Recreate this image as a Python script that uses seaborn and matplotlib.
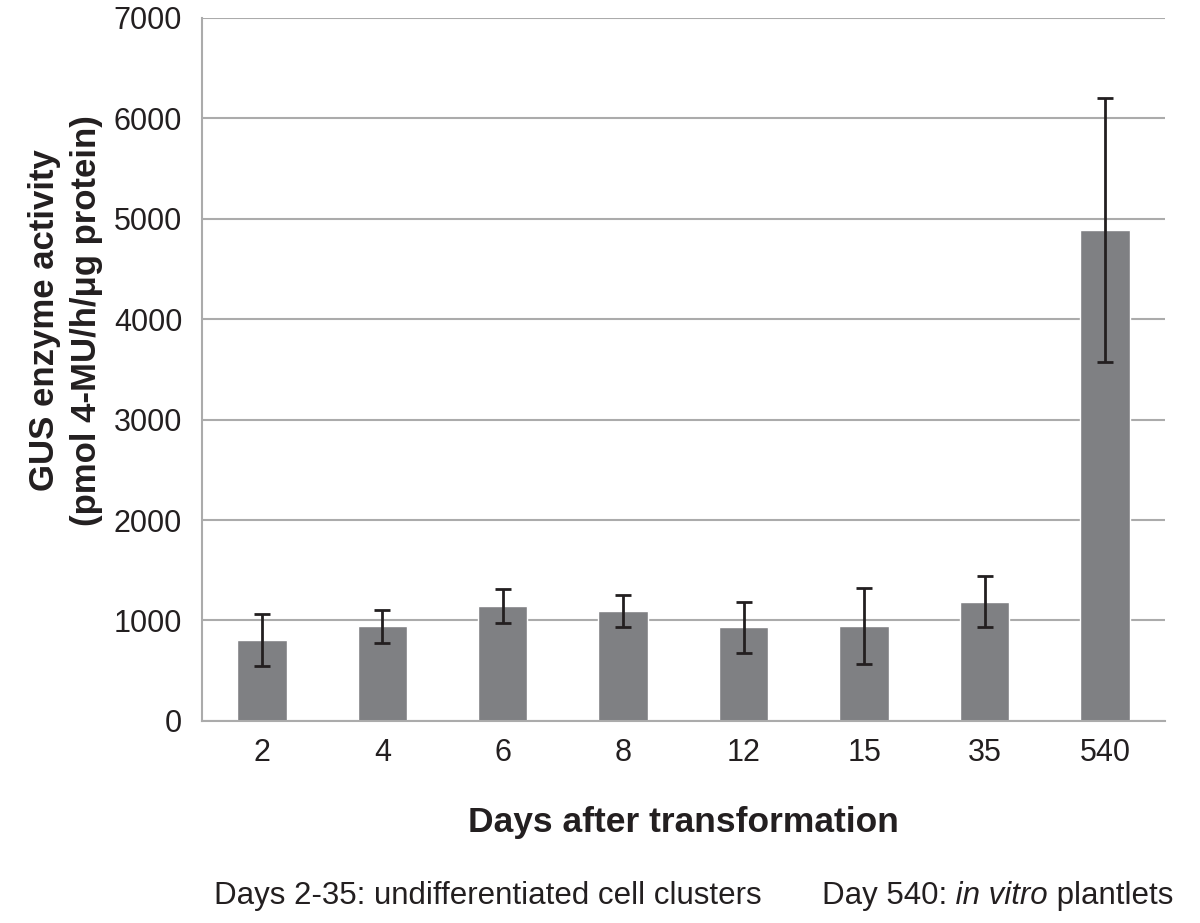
import numpy as np
import pandas as pd
import matplotlib
matplotlib.use('Agg')
import matplotlib.pyplot as plt
import seaborn as sns

days = ['2', '4', '6', '8', '12', '15', '35', '540']
activity = [805, 940, 1140, 1090, 930, 945, 1187, 4890]
err = [255, 162, 170, 160, 258, 378, 257, 1315]

df = pd.DataFrame({'day': days, 'activity': activity})

sns.set_style('white')
plt.rcParams['font.family'] = ['Liberation Sans', 'DejaVu Sans']
ink = '#231f20'

fig = plt.figure(figsize=(12, 9.23), dpi=100)
ax = fig.add_axes([0.168, 0.219, 0.803, 0.7615])

sns.barplot(data=df, x='day', y='activity', color='#7f8083', saturation=1,
            width=0.41, ax=ax)
ax.errorbar(np.arange(len(days)), activity, yerr=err, fmt='none',
            ecolor=ink, elinewidth=2, capsize=6, capthick=2, zorder=3)

ax.set_ylim(0, 7000)
ax.set_xlim(-0.5, len(days) - 0.5)
ax.set_yticks(range(0, 7001, 1000))
ax.yaxis.grid(True, color='#ababab', linewidth=1.5)
ax.set_axisbelow(True)

# category boundary ticks on x axis
ax.set_xticks(np.arange(-0.5, len(days)), minor=True)
ax.tick_params(axis='x', which='major', length=0, labelsize=22, pad=12,
               colors=ink)
ax.tick_params(axis='x', which='minor', length=12, width=1.5, color='#ababab')
ax.tick_params(axis='y', which='major', length=8, width=1.5, color='#ababab',
               labelsize=22, labelcolor=ink, pad=6)

for s in ['top', 'right']:
    ax.spines[s].set_visible(False)
for s in ['left', 'bottom']:
    ax.spines[s].set_color('#ababab')
    ax.spines[s].set_linewidth(1.5)

ax.set_xlabel('Days after transformation', fontsize=25.5, fontweight='bold',
              color=ink, labelpad=28)
ax.set_ylabel('GUS enzyme activity\n(pmol 4-MU/h/\u03bcg protein)', fontsize=25,
              fontweight='bold', color=ink, linespacing=1.35)
ax.yaxis.set_label_coords(-0.102, 0.57)

fs = 22.5
t1 = fig.text(0.178, 0.021, 'Days 2-35: undifferentiated cell clusters',
              fontsize=fs, color=ink)
t2 = fig.text(0.685, 0.021, 'Day 540:', fontsize=fs, color=ink)
t3 = ax.annotate(' in vitro', xy=(1, 0), xycoords=t2, va='bottom',
                 fontsize=fs, style='italic', color=ink)
ax.annotate(' plantlets', xy=(1, 0), xycoords=t3, va='bottom',
            fontsize=fs, color=ink)

fig.savefig('out.png', dpi=100)
